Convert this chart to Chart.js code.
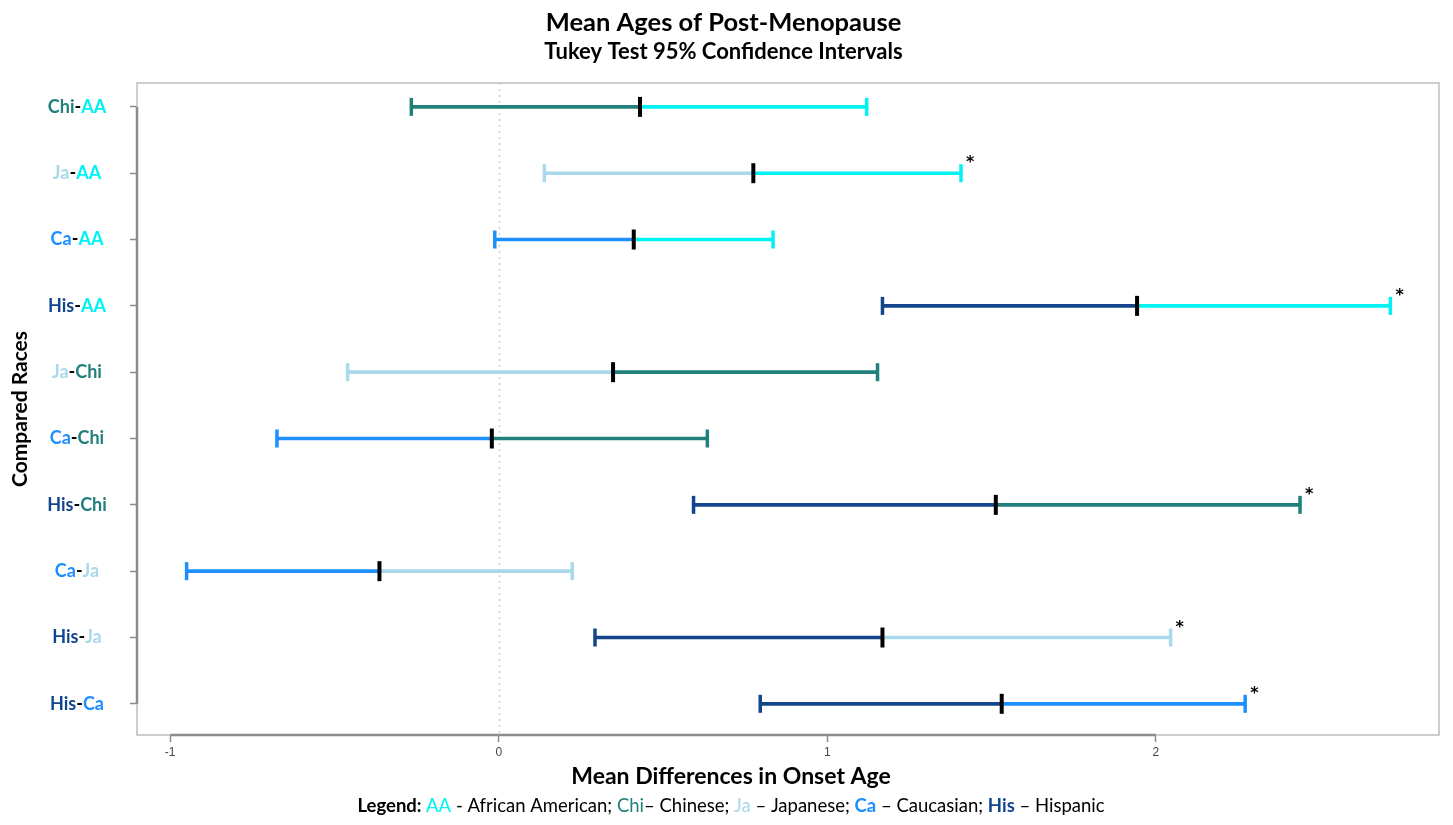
<!DOCTYPE html>
<html>
<head>
<meta charset="utf-8">
<title>Mean Ages of Post-Menopause</title>
<script src="https://cdn.jsdelivr.net/npm/chart.js@4.4.1/dist/chart.umd.min.js"></script>
<style>
  html, body { margin: 0; padding: 0; background: #ffffff; }
  canvas { display: block; }
</style>
</head>
<body>
<canvas id="chart" width="1453" height="825"></canvas>
<script>
// Pairwise comparisons, top to bottom
const comparisons = ['Chi-AA', 'Ja-AA', 'Ca-AA', 'His-AA', 'Ja-Chi', 'Ca-Chi', 'His-Chi', 'Ca-Ja', 'His-Ja', 'His-Ca'];
// Tukey 95% confidence interval bounds and mean differences (years)
const lowerCI  = [-0.266, 0.139, -0.012, 1.168, -0.460, -0.675, 0.593, -0.950, 0.293, 0.796];
const meanDiff = [ 0.430, 0.775,  0.411, 1.943,  0.348, -0.021, 1.513, -0.363, 1.168, 1.531];
const upperCI  = [ 1.120, 1.407,  0.835, 2.714,  1.153,  0.635, 2.439,  0.224, 2.045, 2.272];
// Comparisons whose interval excludes zero
const significant = [false, true, false, true, false, false, true, false, true, true];
const xTicks = [-1, 0, 1, 2];

const raceColors = {
  AA: '#00f2f2',
  Chi: '#22807c',
  Ja: '#a9d9ea',
  Ca: '#1e8fff',
  His: '#12458c'
};
const legendEntries = [
  ['AA', 'African American', ' - ', false],
  ['Chi', 'Chinese', '\u2013 ', false],
  ['Ja', 'Japanese', ' \u2013 ', false],
  ['Ca', 'Caucasian', ' \u2013 ', true],
  ['His', 'Hispanic', ' \u2013 ', true]
];

const firstRace = comparisons.map(c => c.split('-')[0]);
const secondRace = comparisons.map(c => c.split('-')[1]);

// Draws a run of differently styled text pieces centred on cx
function drawPieces(ctx, pieces, cx, cy) {
  let total = 0;
  pieces.forEach(p => { ctx.font = p.font; p.w = ctx.measureText(p.text).width; total += p.w; });
  let x = cx - total / 2;
  ctx.textAlign = 'left';
  ctx.textBaseline = 'middle';
  pieces.forEach(p => {
    ctx.font = p.font;
    ctx.fillStyle = p.color;
    ctx.fillText(p.text, x, cy);
    x += p.w;
  });
}

const decorations = {
  id: 'decorations',
  beforeDatasetsDraw(chart) {
    const {ctx, chartArea: a, scales: {x, y}} = chart;
    ctx.save();
    // plot frame
    ctx.strokeStyle = '#bdbdbd';
    ctx.lineWidth = 1.5;
    ctx.strokeRect(a.left, a.top, a.right - a.left, a.bottom - a.top);
    // axis lines spanning the tick range
    ctx.strokeStyle = '#8c8c8c';
    ctx.lineWidth = 2.5;
    ctx.beginPath();
    ctx.moveTo(x.getPixelForValue(xTicks[0]), a.bottom);
    ctx.lineTo(x.getPixelForValue(xTicks[xTicks.length - 1]), a.bottom);
    ctx.moveTo(a.left, y.getPixelForValue(0));
    ctx.lineTo(a.left, y.getPixelForValue(comparisons.length - 1));
    ctx.stroke();
    // reference line at zero difference
    const x0 = Math.round(x.getPixelForValue(0)) + 0.5;
    ctx.strokeStyle = '#cfcfcf';
    ctx.lineWidth = 1.5;
    ctx.setLineDash([2, 4]);
    ctx.beginPath();
    ctx.moveTo(x0, a.top);
    ctx.lineTo(x0, a.bottom);
    ctx.stroke();
    ctx.restore();
  },
  afterDatasetsDraw(chart) {
    const {ctx, scales: {x, y}} = chart;
    ctx.save();
    ctx.fillStyle = '#000';
    ctx.font = 'bold 16px "DejaVu Sans"';
    ctx.textAlign = 'left';
    ctx.textBaseline = 'middle';
    significant.forEach((s, i) => {
      if (!s) return;
      ctx.fillText('*', x.getPixelForValue(upperCI[i]) + 5, y.getPixelForValue(i) - 10);
    });
    ctx.restore();
  },
  afterDraw(chart) {
    const {ctx, scales: {y}} = chart;
    ctx.save();
    // coloured category labels
    const lf = 'bold 18px Lato';
    comparisons.forEach((c, i) => {
      drawPieces(ctx, [
        {text: firstRace[i], font: lf, color: raceColors[firstRace[i]]},
        {text: '-', font: lf, color: '#000'},
        {text: secondRace[i], font: lf, color: raceColors[secondRace[i]]}
      ], 77, y.getPixelForValue(i));
    });
    // horizontal axis title
    drawPieces(ctx, [{text: 'Mean Differences in Onset Age', font: 'bold 23px Lato', color: '#000'}], 731, 777);
    // abbreviation key
    const pieces = [{text: 'Legend: ', font: 'bold 18.5px Lato', color: '#000'}];
    legendEntries.forEach(([abbr, name, sep, bold], k) => {
      pieces.push({text: abbr, font: (bold ? 'bold ' : '') + '18.5px Lato', color: raceColors[abbr]});
      pieces.push({text: sep + name + (k < legendEntries.length - 1 ? '; ' : ''), font: '18.5px Lato', color: '#000'});
    });
    drawPieces(ctx, pieces, 731, 806);
    ctx.restore();
  }
};

const rowPoints = values => values.map((v, i) => ({x: v, y: i}));

new Chart(document.getElementById('chart'), {
  type: 'scatter',
  data: {
    datasets: [
      {
        label: 'Mean difference',
        data: rowPoints(meanDiff),
        pointStyle: 'line',
        pointRotation: 90,
        pointRadius: 10,
        pointHoverRadius: 10,
        pointBorderWidth: 4,
        pointBorderColor: '#000000'
      },
      {
        label: 'Lower bound',
        data: rowPoints(lowerCI),
        pointStyle: 'line',
        pointRotation: 90,
        pointRadius: 9,
        pointHoverRadius: 9,
        pointBorderWidth: 3.5,
        pointBorderColor: firstRace.map(r => raceColors[r])
      },
      {
        label: 'Upper bound',
        data: rowPoints(upperCI),
        pointStyle: 'line',
        pointRotation: 90,
        pointRadius: 9,
        pointHoverRadius: 9,
        pointBorderWidth: 3.5,
        pointBorderColor: secondRace.map(r => raceColors[r])
      },
      {
        type: 'bar',
        label: 'Lower half',
        indexAxis: 'y',
        grouped: false,
        barThickness: 3,
        data: comparisons.map((c, i) => ({y: i, x: [lowerCI[i], meanDiff[i]]})),
        backgroundColor: firstRace.map(r => raceColors[r]),
        borderWidth: 0
      },
      {
        type: 'bar',
        label: 'Upper half',
        indexAxis: 'y',
        grouped: false,
        barThickness: 3,
        data: comparisons.map((c, i) => ({y: i, x: [meanDiff[i], upperCI[i]]})),
        backgroundColor: secondRace.map(r => raceColors[r]),
        borderWidth: 0
      }
    ]
  },
  options: {
    responsive: false,
    animation: false,
    layout: {padding: {left: 0, right: 6, top: 0, bottom: 30}},
    plugins: {
      legend: {display: false},
      tooltip: {enabled: false},
      title: {
        display: true,
        text: 'Mean Ages of Post-Menopause',
        color: '#000',
        font: {family: 'Lato', size: 25.5, weight: 'bold', lineHeight: 1.2},
        padding: {top: 7, bottom: 1}
      },
      subtitle: {
        display: true,
        text: 'Tukey Test 95% Confidence Intervals',
        color: '#000',
        font: {family: 'Lato', size: 22, weight: 'bold', lineHeight: 1.2},
        padding: {top: 0, bottom: 18}
      }
    },
    scales: {
      x: {
        type: 'linear',
        position: 'bottom',
        min: -1.101,
        max: 2.862,
        offset: false,
        afterBuildTicks: s => { s.ticks = xTicks.map(v => ({value: v})); },
        afterFit: s => { s.height = 60; },
        grid: {offset: false, drawOnChartArea: false, drawTicks: true, tickLength: 7, tickColor: '#8c8c8c', tickWidth: 1.5},
        border: {display: false},
        ticks: {color: '#444', padding: 3, font: {family: 'Liberation Sans', size: 12}}
      },
      y: {
        type: 'linear',
        position: 'left',
        reverse: true,
        offset: false,
        min: -0.36,
        max: 9.47,
        afterBuildTicks: s => { s.ticks = comparisons.map((c, i) => ({value: i})); },
        afterFit: s => { s.width = 137; },
        grid: {offset: false, drawOnChartArea: false, drawTicks: true, tickLength: 7, tickColor: '#8c8c8c', tickWidth: 1.5},
        border: {display: false},
        ticks: {display: false},
        title: {
          display: true,
          text: 'Compared Races',
          color: '#000',
          font: {family: 'Lato', size: 21, weight: 'bold', lineHeight: 1.2},
          padding: {top: 8, bottom: 0}
        }
      }
    }
  },
  plugins: [decorations]
});
</script>
</body>
</html>
